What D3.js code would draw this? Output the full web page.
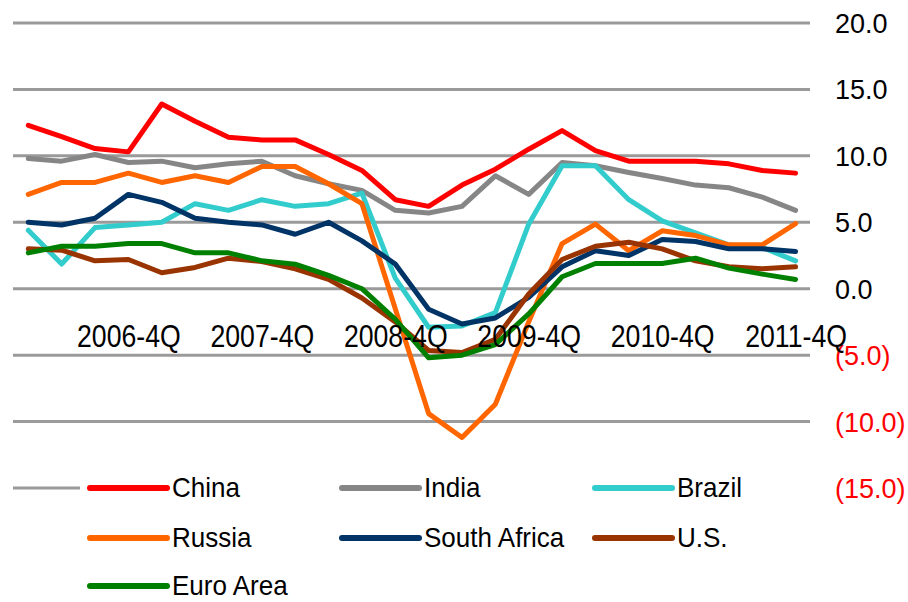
<!DOCTYPE html>
<html>
<head>
<meta charset="utf-8">
<script src="https://cdn.jsdelivr.net/npm/d3@7"></script>
<style>
  html, body { margin: 0; padding: 0; background: #fff; }
  svg { display: block; }
  text { font-family: "Liberation Sans", Arial, sans-serif; }
</style>
</head>
<body>
<svg id="chart" width="908" height="602"></svg>
<script>
const quarters = [];
for (let yr = 2006; yr <= 2011; yr++) for (let q = 1; q <= 4; q++) quarters.push(yr + "-" + q + "Q");

const seriesNames = ["China", "India", "Brazil", "Russia", "South Africa", "U.S.", "Euro Area"];
const seriesColors = ["#ff0000", "#868686", "#33cccc", "#ff6600", "#003366", "#993300", "#008000"];

const china       = [12.3, 11.45, 10.55, 10.3, 13.9, 12.6, 11.4, 11.2, 11.2, 10.1, 8.9, 6.7, 6.2, 7.8, 9.0, 10.5, 11.9, 10.4, 9.6, 9.6, 9.6, 9.4, 8.9, 8.7];
const india       = [9.8, 9.6, 10.1, 9.5, 9.6, 9.1, 9.4, 9.6, 8.5, 7.9, 7.4, 5.9, 5.7, 6.2, 8.5, 7.1, 9.5, 9.25, 8.75, 8.3, 7.8, 7.6, 6.9, 5.9];
const brazil      = [4.4, 1.86, 4.6, 4.8, 5.0, 6.4, 5.9, 6.7, 6.2, 6.4, 7.2, 0.8, -2.9, -2.8, -1.8, 4.86, 9.25, 9.25, 6.7, 5.1, 4.2, 3.3, 3.1, 2.1];
const russia      = [7.1, 8.0, 8.0, 8.7, 8.0, 8.5, 8.0, 9.2, 9.2, 7.9, 6.4, -1.5, -9.4, -11.2, -8.7, -2.5, 3.4, 4.86, 2.86, 4.36, 4.0, 3.3, 3.3, 4.9];
const southAfrica = [5.0, 4.8, 5.3, 7.1, 6.5, 5.3, 5.0, 4.8, 4.1, 5.0, 3.6, 1.86, -1.55, -2.65, -2.2, -0.65, 1.65, 2.86, 2.5, 3.7, 3.55, 3.0, 3.0, 2.8];
const us          = [3.0, 2.9, 2.1, 2.2, 1.2, 1.6, 2.3, 2.05, 1.5, 0.7, -0.7, -2.5, -4.65, -4.8, -3.8, -0.4, 2.2, 3.2, 3.5, 3.0, 2.1, 1.65, 1.5, 1.65];
const euroArea    = [2.7, 3.2, 3.2, 3.4, 3.4, 2.7, 2.7, 2.1, 1.85, 1.0, 0.0, -2.3, -5.2, -5.0, -4.2, -1.9, 0.9, 1.9, 1.9, 1.9, 2.3, 1.55, 1.1, 0.7];

const yTicks = [20, 15, 10, 5, 0, -5, -10, -15];
const xTickLabels = ["2006-4Q", "2007-4Q", "2008-4Q", "2009-4Q", "2010-4Q", "2011-4Q"];

const seriesValues = [china, india, brazil, russia, southAfrica, us, euroArea];
const series = seriesNames.map((n, i) => ({ name: n, color: seriesColors[i], values: seriesValues[i] }));

const svg = d3.select("#chart");
const x = d3.scalePoint().domain(quarters).range([28.3, 795.6]);
const y = d3.scaleLinear().domain([-15, 20]).range([488, 23]);

// gridlines
svg.append("g").selectAll("line").data(yTicks).join("line")
  .attr("x1", 13).attr("x2", 810)
  .attr("y1", d => y(d)).attr("y2", d => y(d))
  .attr("stroke", "#9a9a9a").attr("stroke-width", 3);

// right axis labels
const fmt = d => d < 0 ? "(" + Math.abs(d).toFixed(1) + ")" : d.toFixed(1);
const yAxis = d3.axisRight(y).tickValues(yTicks).tickFormat(fmt).tickSize(0).tickPadding(0);
const yg = svg.append("g").attr("transform", "translate(835,0)").call(yAxis);
yg.select(".domain").remove();
yg.selectAll("text")
  .attr("x", 0).attr("dy", null).attr("y", 9.5)
  .attr("text-anchor", "start")
  .style("font-family", '"Liberation Sans", Arial, sans-serif')
  .style("font-size", "27px")
  .attr("fill", d => d < 0 ? "#ff0000" : "#000");

// lines
const line = d3.line().x((d, i) => x(quarters[i])).y(d => y(d)).curve(d3.curveLinear);
svg.append("g").selectAll("path").data(series).join("path")
  .attr("d", d => line(d.values))
  .attr("fill", "none")
  .attr("stroke", d => d.color)
  .attr("stroke-width", 5)
  .attr("stroke-linejoin", "round")
  .attr("stroke-linecap", "round");

// x labels
const xAxis = d3.axisBottom(x).tickValues(xTickLabels).tickSize(0).tickPadding(0);
const xg = svg.append("g").attr("transform", "translate(0,0)").call(xAxis);
xg.select(".domain").remove();
xg.selectAll(".tick text")
  .attr("y", 0).attr("dy", null)
  .attr("text-anchor", "middle")
  .style("font-family", '"Liberation Sans", Arial, sans-serif')
  .style("font-size", "31px")
  .attr("fill", "#000")
  .attr("transform", "translate(0,347) scale(0.86,1)");

// legend
const legend = svg.append("g");
legend.append("rect").attr("x", 80).attr("y", 468).attr("width", 740).attr("height", 134).attr("fill", "#fff");
const colX = [90, 342, 595];
const rowY = [488, 538, 586];
const items = legend.selectAll("g.item").data(series).join("g")
  .attr("class", "item")
  .attr("transform", (d, i) => `translate(${colX[i % 3]},${rowY[Math.floor(i / 3)]})`);
items.append("line").attr("x1", 0).attr("x2", 77).attr("y1", 0).attr("y2", 0)
  .attr("stroke", d => d.color).attr("stroke-width", 6).attr("stroke-linecap", "round");
items.append("text").attr("x", 0).attr("y", 9)
  .attr("transform", "translate(82,0) scale(0.93,1)")
  .style("font-size", "28px")
  .attr("fill", "#000")
  .text(d => d.name);
</script>
</body>
</html>
